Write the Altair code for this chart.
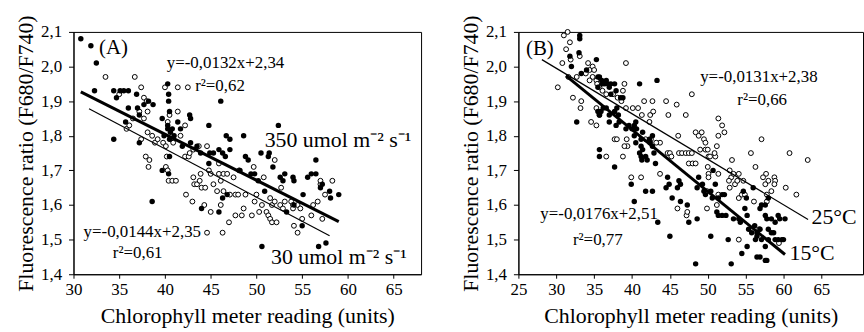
import altair as alt
import pandas as pd

FONT = "Liberation Serif"

# ---------------- Panel A data ----------------
a_filled_x = [30.8, 31.9, 32.5, 32.3, 34.4, 34.7, 35.1, 35.5, 36.0, 36.0,
              36.9, 37.0, 37.7, 38.2, 38.7, 37.2, 35.7, 34.4, 37.2, 38.6,
              39.7, 40.3, 40.3, 40.4, 40.4, 40.5, 40.3, 39.9, 40.5, 41.0,
              41.4, 41.7, 41.9, 40.5, 39.7, 40.4, 42.7, 42.8, 42.8, 43.5,
              43.9, 44.8, 44.0, 44.8, 44.9, 45.9, 46.3, 46.1, 45.9, 46.6,
              46.7, 47.1, 47.1, 46.8, 46.3, 48.6, 48.2, 48.8, 49.1, 49.4,
              49.8, 50.5, 51.4, 51.3, 50.6, 50.2, 50.9, 51.8, 52.4, 52.6,
              52.9, 53.1, 54.0, 54.1, 53.3, 54.1, 55.1, 55.6, 56.0, 56.5,
              56.5, 57.0, 57.2, 55.0, 56.8, 57.6, 58.0, 59.0, 58.1, 40.6,
              40.8, 45.3]
a_filled_y = [2.08, 2.06, 2.01, 1.93, 1.93, 1.91, 1.93, 1.93, 1.93, 1.88,
              1.92, 1.88, 1.89, 1.90, 1.89, 1.86, 1.84, 1.79, 1.78, 1.61,
              1.85, 1.83, 1.95, 1.92, 1.90, 1.87, 1.82, 1.80, 1.79, 1.80,
              1.84, 1.82, 1.77, 1.74, 1.70, 1.69, 1.86, 1.85, 1.78, 1.77,
              1.75, 1.83, 1.59, 1.72, 1.75, 1.76, 1.75, 1.90, 1.58, 1.74,
              1.80, 1.79, 1.76, 1.63, 1.62, 1.80, 1.70, 1.74, 1.73, 1.69,
              1.69, 1.75, 1.75, 1.74, 1.48, 1.67, 1.64, 1.71, 1.83, 1.68,
              1.67, 1.69, 1.68, 1.67, 1.58, 1.60, 1.63, 1.68, 1.69, 1.73,
              1.69, 1.65, 1.66, 1.54, 1.48, 1.49, 1.64, 1.63, 1.62, 1.81,
              1.82, 1.75]
a_open_x = [33.5, 36.7, 35.0, 37.4, 37.7, 38.0, 35.8, 36.1, 36.5, 37.2,
            37.7, 38.1, 37.9, 38.3, 38.2, 37.4, 38.1, 38.6, 38.9, 39.2,
            40.0, 41.4, 42.5, 40.3, 40.5, 41.4, 39.8, 40.1, 40.6, 40.9,
            40.2, 40.1, 40.3, 40.4, 40.8, 41.2, 41.7, 42.2, 42.2, 42.6,
            42.7, 43.1, 43.7, 42.3, 43.1, 43.2, 43.5, 43.8, 44.0, 43.0,
            44.4, 43.9, 44.6, 44.8, 45.0, 45.0, 44.6, 44.3, 45.3, 45.7,
            45.9, 45.9, 46.1, 46.4, 46.4, 46.8, 46.1, 46.3, 47.0, 47.1,
            47.5, 47.7, 48.0, 48.1, 47.7, 48.4, 48.6, 48.8, 49.5, 49.8,
            49.7, 50.0, 50.3, 50.6, 50.8, 51.5, 51.1, 51.3, 51.7, 52.0,
            51.5, 51.7, 52.2, 52.0, 52.6, 52.9, 53.1, 52.7, 53.8, 54.0,
            54.0, 54.5, 54.1, 54.5, 54.8, 55.0, 56.0, 56.2, 56.7, 57.0,
            57.2, 57.5, 58.3, 57.0]
a_open_y = [1.97, 1.97, 1.92, 1.94, 1.91, 1.90, 1.82, 1.83, 1.85, 1.87,
            1.85, 1.87, 1.74, 1.73, 1.71, 1.79, 1.81, 1.80, 1.78, 1.79,
            1.94, 1.94, 1.94, 1.84, 1.86, 1.87, 1.78, 1.77, 1.79, 1.78,
            1.74, 1.71, 1.70, 1.67, 1.67, 1.67, 1.80, 1.83, 1.74, 1.74,
            1.75, 1.76, 1.77, 1.63, 1.68, 1.66, 1.66, 1.67, 1.65, 1.61,
            1.65, 1.69, 1.77, 1.70, 1.69, 1.58, 1.52, 1.60, 1.66, 1.64,
            1.72, 1.69, 1.67, 1.69, 1.64, 1.69, 1.60, 1.52, 1.55, 1.63,
            1.68, 1.63, 1.63, 1.70, 1.57, 1.57, 1.59, 1.63, 1.57, 1.61,
            1.71, 1.63, 1.58, 1.60, 1.68, 1.62, 1.58, 1.57, 1.60, 1.73,
            1.56, 1.55, 1.55, 1.61, 1.60, 1.59, 1.61, 1.65, 1.61, 1.60,
            1.59, 1.60, 1.54, 1.52, 1.59, 1.56, 1.57, 1.60, 1.61, 1.66,
            1.56, 1.63, 1.67, 1.67]
# regression line end points (350 and 30 umol)
a_line350_x = [30.8, 59.0]
a_line350_y = [1.927, 1.552]
a_line30_x = [31.7, 58.0]
a_line30_y = [1.878, 1.511]

# ---------------- Panel B data ----------------
b_filled_x = [33.1, 33.1, 33.0, 31.8, 32.0, 33.3, 34.0, 35.3, 32.7, 35.5,
              35.7, 35.5, 36.0, 36.1, 36.6, 36.4, 36.8, 37.0, 37.2, 37.7,
              37.9, 37.2, 38.5, 38.8, 35.5, 35.7, 35.9, 36.2, 36.6, 37.0,
              37.7, 38.0, 38.2, 37.9, 37.0, 38.3, 35.7, 35.7, 37.7, 39.2,
              39.6, 40.0, 40.3, 40.5, 40.6, 40.3, 40.5, 41.2, 41.4, 41.2,
              41.4, 41.0, 41.2, 41.3, 39.9, 40.3, 41.0, 42.3, 42.7, 42.4,
              42.7, 41.8, 42.0, 42.9, 43.1, 41.8, 42.7, 43.3, 43.4, 44.5,
              44.9, 44.7, 45.3, 45.0, 46.0, 46.4, 46.4, 46.2, 47.3, 47.5,
              48.6, 48.6, 48.4, 48.8, 49.3, 49.5, 49.7, 50.4, 50.6, 51.0,
              50.7, 51.4, 51.9, 52.2, 51.2, 51.4, 51.9, 52.4, 50.4, 52.7,
              53.1, 53.4, 54.1, 54.3, 54.7, 55.1, 54.9, 55.2, 56.0, 55.4,
              55.8, 54.5, 55.2, 56.2, 56.3, 56.5, 56.5, 56.9, 57.1, 56.9,
              57.1, 57.6, 58.0, 57.6, 57.8, 58.4, 58.9, 59.3, 59.5, 58.0,
              58.4, 58.7, 58.9, 58.0, 57.6, 59.3, 60.0, 56.5, 56.9, 57.6,
              57.8, 60.2, 59.8]
b_filled_y = [2.09, 2.08, 2.04, 2.03, 2.00, 1.98, 1.99, 2.02, 1.84, 1.97,
              1.97, 1.94, 1.96, 1.95, 1.96, 1.95, 1.95, 1.94, 1.95, 1.95,
              1.93, 1.92, 1.91, 1.91, 1.87, 1.86, 1.87, 1.88, 1.88, 1.86,
              1.87, 1.88, 1.86, 1.83, 1.84, 1.84, 1.76, 1.74, 1.71, 1.82,
              1.83, 1.82, 1.83, 1.84, 1.82, 1.80, 1.78, 1.79, 1.81, 1.77,
              1.76, 1.75, 1.74, 1.73, 1.66, 1.61, 1.95, 1.79, 1.80, 1.78,
              1.77, 1.74, 1.73, 1.75, 1.72, 1.64, 1.64, 1.96, 1.55, 1.65,
              1.66, 1.68, 1.62, 1.51, 1.65, 1.66, 1.61, 1.67, 1.60, 1.55,
              1.65, 1.56, 1.43, 1.68, 1.66, 1.64, 1.63, 1.64, 1.62, 1.66,
              1.70, 1.62, 1.63, 1.63, 1.58, 1.57, 1.57, 1.57, 1.51, 1.50,
              1.43, 1.56, 1.56, 1.55, 1.64, 1.62, 1.59, 1.57, 1.65, 1.53,
              1.52, 1.46, 1.48, 1.54, 1.50, 1.51, 1.52, 1.53, 1.50, 1.59,
              1.60, 1.60, 1.62, 1.57, 1.56, 1.56, 1.55, 1.57, 1.56, 1.53,
              1.52, 1.52, 1.50, 1.50, 1.48, 1.50, 1.50, 1.45, 1.45, 1.44,
              1.44, 1.56, 1.50]
b_open_x = [31.5, 31.0, 31.8, 31.3, 30.8, 31.9, 30.2, 31.6, 32.7, 32.2,
            33.2, 33.3, 33.1, 34.2, 34.8, 34.4, 33.9, 34.8, 35.0, 34.4,
            35.3, 35.4, 35.7, 36.1, 36.6, 37.5, 38.1, 38.6, 38.8, 39.0,
            39.2, 39.2, 34.6, 35.3, 35.7, 35.3, 36.6, 38.8, 37.7, 38.0,
            39.3, 39.4, 39.0, 39.9, 41.2, 40.1, 40.8, 41.6, 41.3, 42.4,
            42.7, 42.8, 42.3, 41.8, 42.5, 43.7, 43.2, 43.7, 44.5, 45.9,
            44.8, 47.1, 47.9, 44.7, 45.0, 45.2, 46.1, 46.2, 46.6, 47.1,
            47.5, 47.9, 47.5, 48.0, 48.4, 46.0, 47.2, 47.3, 48.4, 48.8,
            49.2, 49.5, 49.7, 49.0, 49.7, 50.0, 50.1, 50.3, 51.0, 50.9,
            51.2, 51.4, 51.9, 52.2, 51.4, 51.4, 50.1, 50.0, 50.1, 49.9,
            49.9, 51.2, 51.4, 53.2, 52.9, 53.1, 53.4, 52.8, 52.9, 53.6,
            53.9, 54.1, 54.7, 54.1, 54.5, 54.9, 55.7, 56.3, 56.1, 57.1,
            57.7, 57.3, 58.0, 58.8, 58.9, 58.8, 57.6, 57.8, 57.8, 58.4,
            60.3, 61.7, 60.8, 63.2, 54.1, 56.8, 59.4]
b_open_y = [2.10, 2.09, 2.07, 2.05, 2.01, 2.02, 1.94, 1.97, 1.97, 1.91,
            1.88, 1.90, 2.03, 2.01, 2.00, 1.99, 1.98, 1.97, 1.99, 1.96,
            1.96, 1.95, 1.94, 1.93, 1.92, 1.92, 1.91, 1.90, 1.93, 1.95,
            2.01, 1.88, 1.84, 1.83, 1.86, 1.88, 1.74, 1.74, 1.79, 1.79,
            1.79, 1.77, 1.77, 1.68, 1.68, 1.88, 1.88, 1.90, 1.86, 1.86,
            1.90, 1.87, 1.84, 1.79, 1.79, 1.78, 1.78, 1.69, 1.90, 1.89,
            1.86, 1.86, 1.92, 1.75, 1.75, 1.74, 1.80, 1.75, 1.75, 1.75,
            1.75, 1.75, 1.72, 1.72, 1.72, 1.59, 1.57, 1.58, 1.81, 1.80,
            1.81, 1.79, 1.78, 1.76, 1.76, 1.76, 1.74, 1.74, 1.74, 1.75,
            1.77, 1.85, 1.83, 1.81, 1.80, 1.69, 1.69, 1.71, 1.68, 1.64,
            1.59, 1.60, 1.63, 1.73, 1.70, 1.68, 1.69, 1.67, 1.65, 1.66,
            1.67, 1.69, 1.67, 1.62, 1.63, 1.63, 1.75, 1.71, 1.61, 1.79,
            1.69, 1.68, 1.67, 1.68, 1.67, 1.66, 1.66, 1.63, 1.61, 1.64,
            1.65, 1.63, 1.75, 1.73, 1.50, 1.53, 1.49]
# regression line end points (25 and 15 degrees C)
b_line25_x = [28.1, 63.25]
b_line25_y = [2.02, 1.558]
b_line15_x = [31.3, 60.2]
b_line15_y = [1.973, 1.457]

y_ticks = [1.4, 1.5, 1.6, 1.7, 1.8, 1.9, 2.0, 2.1]
a_x_ticks = [30, 35, 40, 45, 50, 55, 60, 65]
b_x_ticks = [25, 30, 35, 40, 45, 50, 55, 60, 65]

Y_TITLE = "Fluorescence ratio (F680/F740)"
X_TITLE = "Chlorophyll meter reading (units)"


def make_panel(fx, fy, ox, oy, lines, xdom, xticks, width, texts):
    xs = alt.Scale(domain=xdom, nice=False, zero=False)
    ys = alt.Scale(domain=[1.4, 2.1], nice=False, zero=False)
    xax = alt.Axis(values=xticks, title=X_TITLE, grid=False, tickSize=4,
                   labelPadding=3, titlePadding=9, labelOverlap=False,
                   labelFlush=False)
    yax = alt.Axis(values=y_ticks, title=Y_TITLE, grid=False, tickSize=5,
                   labelPadding=7, titlePadding=3, labelOverlap=False,
                   labelFlush=False,
                   labelExpr="replace(format(datum.value, '.1f'), '.', ',')")
    X = alt.X("x:Q", scale=xs, axis=xax)
    Y = alt.Y("y:Q", scale=ys, axis=yax)
    open_df = pd.DataFrame({"x": ox, "y": oy})
    fill_df = pd.DataFrame({"x": fx, "y": fy})
    layers = []
    layers.append(alt.Chart(open_df).mark_circle(
        fill="white", stroke="black", strokeWidth=1, size=24, opacity=1
    ).encode(x=X, y=Y))
    layers.append(alt.Chart(fill_df).mark_circle(
        color="black", size=30, opacity=1
    ).encode(x=X, y=Y))
    for lx, ly, sw in lines:
        ldf = pd.DataFrame({"x": lx, "y": ly})
        layers.append(alt.Chart(ldf).mark_line(color="black", strokeWidth=sw)
                      .encode(x=X, y=Y))
    for t, tx, ty, fs in texts:
        tdf = pd.DataFrame({"t": [t], "x": [tx], "y": [ty]})
        layers.append(alt.Chart(tdf).mark_text(
            font=FONT, fontSize=fs, align="left", baseline="middle", color="black"
        ).encode(x=X, y=Y, text="t:N"))
    return alt.layer(*layers).properties(width=width, height=244)


panel_a = make_panel(
    a_filled_x, a_filled_y, a_open_x, a_open_y,
    [(a_line350_x, a_line350_y, 3), (a_line30_x, a_line30_y, 1.2)],
    [30, 68], a_x_ticks, 350,
    [("(A)", 32.8, 2.054, 21),
     ("y=-0,0132x+2,34", 40.2, 2.011, 17),
     ("r²=0,62", 43.3, 1.945, 17),
     ("350 umol m⁻² s⁻¹", 50.9, 1.787, 22),
     ("y=-0,0144x+2,35", 31.1, 1.521, 17),
     ("r²=0,61", 34.3, 1.46, 17),
     ("30 umol m⁻² s⁻¹", 51.6, 1.449, 22)],
)

panel_b = make_panel(
    b_filled_x, b_filled_y, b_open_x, b_open_y,
    [(b_line25_x, b_line25_y, 1.2), (b_line15_x, b_line15_y, 3)],
    [25, 70.5], b_x_ticks, 347,
    [("(B)", 26.0, 2.05, 21),
     ("y=-0,0131x+2,38", 49.0, 1.971, 17),
     ("r²=0,66", 53.9, 1.902, 17),
     ("25°C", 63.7, 1.564, 22),
     ("y=-0,0176x+2,51", 27.9, 1.575, 17),
     ("r²=0,77", 32.2, 1.50, 17),
     ("15°C", 60.8, 1.46, 22)],
)

chart = alt.hconcat(panel_a, panel_b, spacing=37).properties(
    padding={"left": 14, "top": 13, "right": 0, "bottom": 0},
    background="white",
).configure_view(stroke="black", strokeWidth=1).configure_axis(
    labelFont=FONT, titleFont=FONT, labelFontSize=17, titleFontSize=22,
    titleFontWeight="normal", labelColor="black", titleColor="black",
    domainColor="black", tickColor="black", domainWidth=1, tickWidth=1,
)

chart.save("out.html", embed_options={"renderer": "svg", "actions": False})
